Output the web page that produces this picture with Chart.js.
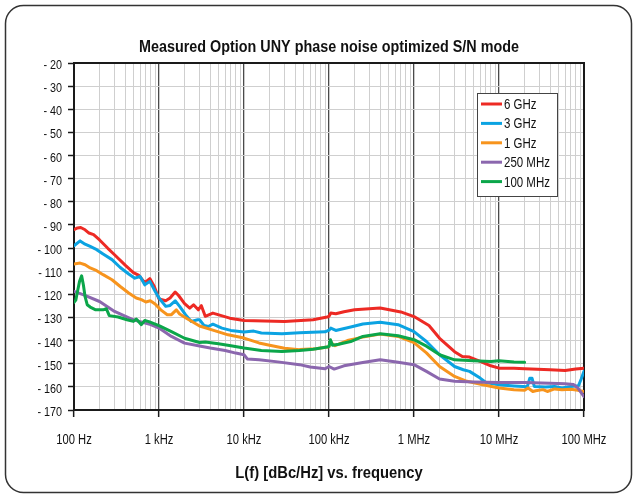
<!DOCTYPE html>
<html><head><meta charset="utf-8">
<script src="https://cdn.jsdelivr.net/npm/chart.js@4.4.1/dist/chart.umd.min.js"></script>
<style>html,body{margin:0;padding:0;background:#fff;}#wrap{position:relative;width:636px;height:503px;}</style>
</head><body><div id="wrap"><canvas id="c" width="636" height="503"></canvas></div>
<script>
const FONT = "'Liberation Sans', Arial, Helvetica, sans-serif";
const chartTitle = 'Measured Option UNY phase noise optimized S/N mode';
const xAxisTitle = 'L(f) [dBc/Hz] vs. frequency';
const seriesNames = ['6 GHz', '3 GHz', '1 GHz', '250 MHz', '100 MHz'];
const seriesColors = ['#ED2A24', '#0BA3E2', '#F7941D', '#8B67AE', '#0BA64A'];
const xTickValues = [1e2, 1e3, 1e4, 1e5, 1e6, 1e7, 1e8];
const xTickLabels = ['100 Hz', '1 kHz', '10 kHz', '100 kHz', '1 MHz', '10 MHz', '100 MHz'];
const yMin = -170, yMax = -20, yStep = 10;

// 6 GHz
const freq6G = [100,110,120,135,150,170,200,250,300,400,500,580,680,780,880,1000,1200,1350,1550,1700,2000,2300,2550,2900,3150,3500,4300,6800,10000,30000,65000,95000,100000,105000,120000,150000,200000,400000,700000,1e6,1.5e6,2e6,3e6,3.7e6,4.5e6,6e6,8e6,1e7,1.5e7,2e7,4e7,6e7,8e7,1e8];
const dB6G = [-92,-91.3,-91.1,-92.1,-93.5,-94.2,-96.5,-100.1,-102.9,-107.4,-110.6,-111.8,-115,-113.2,-116.6,-122,-122.8,-121.6,-119,-120.5,-124,-126,-124.5,-126.7,-124.9,-129.5,-128.1,-130.3,-131.3,-131.7,-131,-129.8,-129.5,-128.1,-128.4,-127.5,-126.7,-125.9,-127.6,-129.6,-133.5,-139,-144.8,-146.9,-147.1,-149,-150.9,-151.9,-152,-152.2,-152.6,-152.9,-152.3,-151.9];
// 3 GHz
const freq3G = [100,118,135,155,185,220,280,350,440,520,600,680,780,900,1000,1200,1350,1550,1750,2050,2400,2850,3000,3400,3800,4300,5500,7000,10000,13000,16000,28000,45000,90000,100000,105000,120000,180000,250000,400000,650000,1e6,1.4e6,2e6,3e6,3.8e6,4.5e6,6e6,7e6,1e7,1.5e7,2.15e7,2.3e7,2.45e7,2.6e7,3.5e7,4.5e7,5.5e7,7e7,8.6e7,9.3e7,1e8];
const dB3G = [-99,-96.9,-98.3,-99.3,-100.7,-102.6,-105,-108.4,-111.2,-113,-112.3,-115.9,-114.4,-118.7,-121.6,-125.2,-124.8,-122.8,-125.2,-128.8,-131.7,-131,-131,-133.5,-133.9,-132.9,-134.6,-135.6,-136.3,-135.9,-136.7,-137,-136.6,-136.2,-135.5,-134.6,-135.6,-134.1,-132.8,-132.1,-133.1,-136.1,-140.4,-146.1,-151.2,-152.6,-153.3,-156.2,-158.1,-159.1,-159.6,-160,-156.3,-156.3,-159.8,-160.1,-159.8,-160.5,-159.8,-159.5,-156.5,-153.3];
// 1 GHz
const freq1G = [100,118,135,155,185,220,280,350,440,540,620,700,790,900,1050,1250,1400,1600,1750,2100,2500,3000,4300,6500,10000,15000,20000,30000,45000,70000,95000,100000,104000,110000,118000,170000,250000,400000,650000,1e6,1.4e6,2e6,3e6,4.2e6,6.5e6,1e7,1.5e7,2e7,2.2e7,2.5e7,2.7e7,3.3e7,3.7e7,4.5e7,5.5e7,7e7,8.5e7,1e8];
const dB1G = [-106.9,-106.5,-107.2,-108.6,-109.8,-111.5,-113.7,-116.6,-119.4,-121.6,-122.3,-123.3,-122.8,-124.2,-126.7,-128.8,-128.8,-126.7,-128.5,-130.3,-132,-133.7,-135.5,-137.5,-138.9,-141,-142,-143.3,-143.9,-143.5,-142.8,-142.6,-140.4,-141.5,-142.2,-139.8,-138.5,-137.2,-138.2,-140.9,-145.3,-151.2,-155.5,-157.6,-159.1,-160.5,-161.2,-161.5,-160.5,-162,-161.7,-161.2,-162,-160.9,-161.2,-161,-161.5,-162];
// 250 MHz
const freq250M = [100,130,200,300,500,800,1000,1400,2000,3000,4000,6000,8000,10000,11000,15000,25000,45000,60000,90000,100000,115000,150000,250000,400000,650000,1e6,1.4e6,2e6,3e6,5e6,1e7,2e7,4e7,6e7,7.5e7,8.5e7,1e8];
const dB250M = [-118.7,-120.2,-123.1,-127.4,-131,-133.1,-134.6,-138.2,-141.1,-142.3,-143.2,-144.3,-145.4,-146.1,-148,-148.3,-149.2,-150.4,-151.4,-152.2,-151.2,-152.3,-150.9,-149.5,-148.3,-149.4,-150.4,-153.3,-156.6,-157.6,-157.9,-158.1,-158.1,-158.4,-158.7,-159,-160.5,-164.2];
// 100 MHz
const freq100M = [100,105,109,116,123,129,135,143,155,180,220,240,260,330,420,500,540,620,680,760,1000,1400,2000,3000,3500,5000,7000,10000,16000,28000,45000,65000,95000,100000,104000,110000,130000,180000,250000,400000,650000,1e6,1.4e6,2e6,3e6,5e6,8e6,1e7,1.5e7,2e7];
const dB100M = [-123.5,-122.5,-119.4,-114.5,-112,-116,-121,-124.5,-125.5,-126.7,-126.7,-126.2,-129.2,-129.8,-131,-131.7,-130.7,-133.1,-131.3,-131.8,-133.5,-136.1,-139,-140.8,-140.6,-141.4,-142.2,-143.2,-144.3,-144.7,-144.3,-143.7,-142.8,-142.5,-139.6,-142,-141.6,-140.4,-138.2,-137,-137.9,-139.6,-142.4,-146.1,-148.3,-148.7,-149,-148.7,-149.3,-149.4];

const seriesFreq = [freq6G, freq3G, freq1G, freq250M, freq100M];
const seriesDB = [dB6G, dB3G, dB1G, dB250M, dB100M];

const isDecade = v => Math.abs(Math.log10(v) - Math.round(Math.log10(v))) < 1e-9;

const datasets = seriesNames.map((name, i) => ({
  label: name,
  data: seriesFreq[i].map((f, k) => ({x: f, y: seriesDB[i][k]})),
  borderColor: seriesColors[i],
  backgroundColor: seriesColors[i],
  borderWidth: 3,
  pointRadius: 0,
  tension: 0,
  fill: false,
  borderJoinStyle: 'round',
  borderCapStyle: 'round',
  order: seriesNames.length - i
}));

// condensed text helper (horizontal squeeze to mimic a condensed typeface)
function drawText(ctx, text, x, y, font, sx, align, baseline) {
  ctx.save();
  ctx.font = font;
  ctx.textAlign = align;
  ctx.textBaseline = baseline || 'alphabetic';
  ctx.translate(x, y);
  ctx.scale(sx, 1);
  ctx.fillText(text, 0, 0);
  ctx.restore();
}

const decorPlugin = {
  id: 'decor',
  beforeDraw(chart) {
    const ctx = chart.ctx;
    ctx.save();
    ctx.fillStyle = '#fff';
    ctx.fillRect(0, 0, chart.width, chart.height);
    ctx.strokeStyle = '#333';
    ctx.lineWidth = 1.5;
    ctx.beginPath();
    ctx.roundRect(5.5, 5.5, 626, 487, 18);
    ctx.stroke();
    ctx.restore();
  },
  beforeDatasetsDraw(chart) {
    const {ctx, chartArea: a} = chart;
    ctx.save();
    ctx.strokeStyle = '#1a1a1a';
    ctx.lineWidth = 2;
    ctx.strokeRect(a.left, a.top, a.right - a.left, a.bottom - a.top);
    ctx.restore();
  },
  afterDraw(chart) {
    const {ctx, chartArea: a} = chart;
    const xs = chart.scales.x, ys = chart.scales.y;
    ctx.save();
    ctx.fillStyle = '#111';
    const cx = (a.left + a.right) / 2;
    drawText(ctx, chartTitle, cx, 52, 'bold 17px ' + FONT, 0.845, 'center');
    drawText(ctx, xAxisTitle, cx, 478, 'bold 17px ' + FONT, 0.87, 'center');
    // x tick labels
    xTickValues.forEach((v, i) => {
      drawText(ctx, xTickLabels[i], xs.getPixelForValue(v), 443.5, '14px ' + FONT, 0.8, 'center');
    });
    // y tick labels
    for (let v = yMin; v <= yMax; v += yStep) {
      drawText(ctx, '- ' + Math.abs(v), a.left - 12, ys.getPixelForValue(v) + 6, '13px ' + FONT, 0.83, 'right');
    }
    // legend
    const lx = 477.5, ly = 93.5, lw = 80, lh = 103;
    ctx.fillStyle = '#fff';
    ctx.fillRect(lx, ly, lw, lh);
    ctx.strokeStyle = '#444';
    ctx.lineWidth = 1;
    ctx.strokeRect(lx, ly, lw, lh);
    chart.data.datasets.forEach((ds, i) => {
      const y = 104 + i * 19.4;
      ctx.strokeStyle = ds.borderColor;
      ctx.lineWidth = 3;
      ctx.beginPath();
      ctx.moveTo(481, y);
      ctx.lineTo(502, y);
      ctx.stroke();
      ctx.fillStyle = '#111';
      drawText(ctx, ds.label, 504, y + 5, '14px ' + FONT, 0.82, 'left');
    });
    ctx.restore();
  }
};

new Chart(document.getElementById('c'), {
  type: 'line',
  data: {datasets},
  options: {
    responsive: false,
    animation: false,
    devicePixelRatio: 1,
    layout: {padding: {left: 5, top: 63, right: 52, bottom: 10}},
    plugins: {legend: {display: false}, title: {display: false}, tooltip: {enabled: false}},
    scales: {
      x: {
        type: 'logarithmic',
        min: 1e2,
        max: 1e8,
        afterFit: s => { s.height = 83; },
        afterBuildTicks: s => {
          const t = [];
          for (let e = 2; e < 8; e++) {
            for (let m = 1; m < 10; m++) t.push({value: m * Math.pow(10, e)});
          }
          t.push({value: 1e8});
          s.ticks = t;
        },
        border: {display: false},
        grid: {
          color: c => (c.tick && isDecade(c.tick.value)) ? '#4a4a4a' : '#cfcfcf',
          lineWidth: c => (c.tick && isDecade(c.tick.value)) ? 1.3 : 1,
          tickColor: c => (c.tick && isDecade(c.tick.value)) ? '#1a1a1a' : 'rgba(0,0,0,0)',
          tickLength: 7,
          tickWidth: 1.5,
          drawTicks: true
        },
        ticks: {display: false, autoSkip: false, maxRotation: 0}
      },
      y: {
        type: 'linear',
        min: yMin,
        max: yMax,
        afterFit: s => { s.width = 69; },
        border: {display: false},
        grid: {
          color: '#cfcfcf',
          lineWidth: 1,
          tickColor: '#1a1a1a',
          tickLength: 6,
          tickWidth: 1.5
        },
        ticks: {display: false, stepSize: yStep}
      }
    }
  },
  plugins: [decorPlugin]
});
</script>
</body></html>
